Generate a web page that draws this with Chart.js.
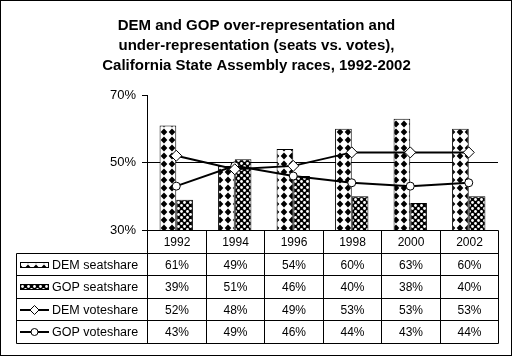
<!DOCTYPE html>
<html><head><meta charset="utf-8">
<script src="https://cdn.jsdelivr.net/npm/chart.js@4.4.0/dist/chart.umd.min.js"></script>
<style>html,body{margin:0;padding:0;background:#fff;}#wrap{position:relative;width:513px;height:357px;}canvas{display:block;}</style>
</head><body><div id="wrap"><canvas id="c" width="513" height="357"></canvas></div>
<script>
const years = ['1992','1994','1996','1998','2000','2002'];
const demSeat = [61,49,54,60,63,60];
const gopSeat = [39,51,46,40,38,40];
const demVote = [52,48,49,53,53,53];
const gopVote = [43,49,46,44,43,44];
const seriesNames = ['DEM seatshare','GOP seatshare','DEM voteshare','GOP voteshare'];
const titleLines = ['DEM and GOP over-representation and','under-representation (seats vs. votes),','California State Assembly races, 1992-2002'];
const yMin = 30, yMax = 70, yStep = 20;
const FONT = 'Liberation Sans, Arial, sans-serif';

function makePattern(kind){
  const c = document.createElement('canvas');
  const ctx = c.getContext('2d');
  if(kind==='dem'){
    c.width=8;c.height=8;
    ctx.fillStyle='#fff';ctx.fillRect(0,0,8,8);
    ctx.fillStyle='#000';
    ctx.beginPath();ctx.moveTo(4,0.5);ctx.lineTo(7.3,4);ctx.lineTo(4,7.5);ctx.lineTo(0.7,4);ctx.closePath();ctx.fill();
  } else {
    c.width=6;c.height=6;
    ctx.fillStyle='#000';ctx.fillRect(0,0,6,6);
    ctx.fillStyle='#fff';
    ctx.beginPath();ctx.arc(1.5,1.5,1.4,0,Math.PI*2);ctx.fill();
    ctx.beginPath();ctx.arc(4.5,4.5,1.4,0,Math.PI*2);ctx.fill();
  }
  return document.getElementById('c').getContext('2d').createPattern(c,'repeat');
}
const demPat = makePattern('dem');
const gopPat = makePattern('gop');

const tablePlugin = {
  id:'dataTable',
  afterDraw(chart){
    const ctx = chart.ctx, xs = chart.scales.x, ca = chart.chartArea;
    const n = years.length;
    const step = xs.getPixelForValue(1) - xs.getPixelForValue(0);
    const bounds = [];
    for(let i=0;i<=n;i++) bounds.push(Math.round(xs.getPixelForValue(0) - step/2 + i*step) + 0.5);
    const top = Math.round(ca.bottom)+0.5;
    const rowH = 22.4;
    const rows = [top];
    for(let r=1;r<=5;r++) rows.push(Math.round(top + 22.5 + (r-1)*rowH) + 0.5);
    const legLeft = 16.5;
    ctx.save();
    ctx.strokeStyle='#000';ctx.lineWidth=1;
    ctx.beginPath();
    ctx.moveTo(bounds[0],rows[0]);ctx.lineTo(bounds[n],rows[0]);
    for(let r=1;r<=5;r++){ctx.moveTo(legLeft,rows[r]);ctx.lineTo(bounds[n],rows[r]);}
    for(let i=0;i<=n;i++){ctx.moveTo(bounds[i],rows[0]);ctx.lineTo(bounds[i],rows[5]);}
    ctx.moveTo(legLeft,rows[1]);ctx.lineTo(legLeft,rows[5]);
    ctx.stroke();
    ctx.fillStyle='#000';
    ctx.font = '12px '+FONT;
    ctx.textAlign='center';ctx.textBaseline='middle';
    for(let i=0;i<n;i++){
      const cx = (bounds[i]+bounds[i+1])/2;
      ctx.fillText(years[i], cx, (rows[0]+rows[1])/2+1);
    }
    const vals = [demSeat,gopSeat,demVote,gopVote];
    for(let r=0;r<4;r++){
      const cy = (rows[r+1]+rows[r+2])/2+1;
      for(let i=0;i<n;i++){
        const cx = (bounds[i]+bounds[i+1])/2;
        ctx.fillText(vals[r][i]+'%', cx, cy);
      }
    }
    ctx.textAlign='left';
    ctx.font = '12.5px '+FONT;
    for(let r=0;r<4;r++){
      const cy = (rows[r+1]+rows[r+2])/2;
      const kx0 = 20, kx1 = 49;
      if(r<2){
        ctx.fillStyle = r===0?demPat:gopPat;
        ctx.fillRect(kx0, Math.round(cy)-3, kx1-kx0, 6);
        ctx.strokeStyle='#000';ctx.lineWidth=1;
        ctx.strokeRect(kx0+0.5, Math.round(cy)-2.5, kx1-kx0-1, 5);
      } else {
        ctx.strokeStyle='#000';ctx.lineWidth=2;
        ctx.beginPath();ctx.moveTo(kx0,Math.round(cy));ctx.lineTo(kx1,Math.round(cy));ctx.stroke();
        const mx=(kx0+kx1)/2, my=Math.round(cy);
        ctx.fillStyle='#fff';ctx.lineWidth=1;
        ctx.beginPath();
        if(r===2){ctx.moveTo(mx,my-4.5);ctx.lineTo(mx+4.5,my);ctx.lineTo(mx,my+4.5);ctx.lineTo(mx-4.5,my);ctx.closePath();}
        else {ctx.arc(mx,my,3.5,0,Math.PI*2);}
        ctx.fill();ctx.stroke();
      }
      ctx.fillStyle='#000';
      ctx.fillText(seriesNames[r], 52, cy+1);
    }
    ctx.strokeStyle='#000';ctx.lineWidth=1;
    ctx.strokeRect(0.5,0.5,511,355);
    ctx.restore();
  }
};

new Chart(document.getElementById('c'), {
  data:{
    labels: years,
    datasets:[
      {type:'line', label:seriesNames[2], data:demVote, order:1, borderColor:'#000', borderWidth:2,
       pointStyle:'rectRot', pointRadius:5.5, pointBackgroundColor:'#fff', pointBorderColor:'#000', pointBorderWidth:1, tension:0},
      {type:'line', label:seriesNames[3], data:gopVote, order:1, borderColor:'#000', borderWidth:2,
       pointStyle:'circle', pointRadius:4, pointBackgroundColor:'#fff', pointBorderColor:'#000', pointBorderWidth:1, tension:0},
      {type:'bar', label:seriesNames[0], data:demSeat, order:2, backgroundColor:demPat, borderColor:'#000', borderWidth:1,
       categoryPercentage:0.57, barPercentage:1},
      {type:'bar', label:seriesNames[1], data:gopSeat, order:2, backgroundColor:gopPat, borderColor:'#000', borderWidth:1,
       categoryPercentage:0.57, barPercentage:1}
    ]
  },
  options:{
    responsive:false, animation:false, devicePixelRatio:1,
    layout:{padding:{left:15,right:15,top:0,bottom:127}},
    plugins:{
      legend:{display:false}, tooltip:{enabled:false},
      title:{display:true, text:titleLines, color:'#000',
        font:{family:FONT, size:15, weight:'bold', lineHeight:20/15},
        padding:{top:16,bottom:19}}
    },
    scales:{
      x:{type:'category', display:false, offset:true},
      y:{min:yMin, max:yMax,
        afterFit(s){s.width=132;},
        ticks:{stepSize:yStep, color:'#000', padding:6, font:{family:FONT,size:13},
          callback:v=>v+'%'},
        grid:{color:c=>c.tick && c.tick.value===50?'#000':'rgba(0,0,0,0)', tickColor:'#000', tickLength:5, lineWidth:1},
        border:{display:true, color:'#000', width:1}
      }
    }
  },
  plugins:[tablePlugin]
});
</script>
</body></html>
